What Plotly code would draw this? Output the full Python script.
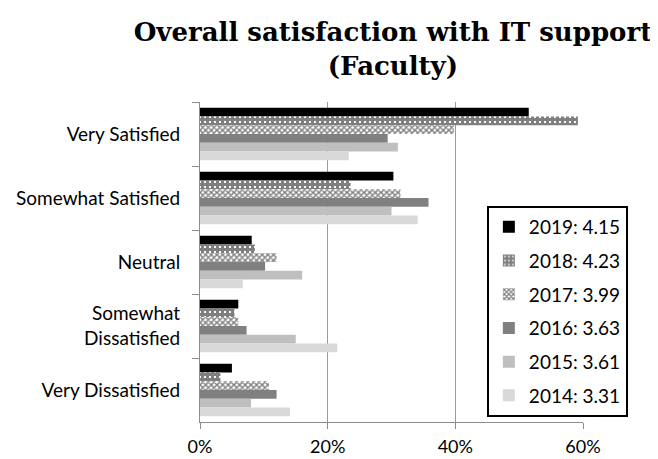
import plotly.graph_objects as go

categories = ["Very Satisfied", "Somewhat Satisfied", "Neutral", "Somewhat<br>Dissatisfied", "Very Dissatisfied"]
series_names = ["2019: 4.15", "2018: 4.23", "2017: 3.99", "2016: 3.63", "2015: 3.61", "2014: 3.31"]
v2019 = [51.5, 30.3, 8.1, 6.0, 5.0]
v2018 = [59.2, 23.6, 8.6, 5.4, 3.2]
v2017 = [39.8, 31.4, 12.0, 6.0, 10.8]
v2016 = [29.4, 35.8, 10.2, 7.3, 12.0]
v2015 = [31.0, 30.0, 16.0, 15.0, 8.0]
v2014 = [23.3, 34.1, 6.7, 21.5, 14.1]
x_ticks = [0, 20, 40, 60]
x_tick_labels = ["0%", "20%", "40%", "60%"]

values = [v2019, v2018, v2017, v2016, v2015, v2014]
styles = [
    dict(color="#000000"),
    dict(color="#ffffff", pattern=dict(shape="+", fgcolor="#000000", bgcolor="#ffffff", size=5, solidity=0.85)),
    dict(color="#ffffff", pattern=dict(shape="x", fgcolor="#000000", bgcolor="#ffffff", size=4, solidity=0.6)),
    dict(color="#808080"),
    dict(color="#bfbfbf"),
    dict(color="#d9d9d9"),
]

fig = go.Figure()
for i, (name, vals, st) in enumerate(zip(series_names, values, styles)):
    fig.add_trace(go.Bar(
        y=categories, x=vals, name=name, orientation="h",
        marker=dict(line=dict(width=0), **st),
        legendgroup=f"g{i}",
    ))

fig.update_layout(
    width=658, height=459,
    barmode="group", bargap=0.18, bargroupgap=0,
    plot_bgcolor="white", paper_bgcolor="white",
    margin=dict(l=192, r=83, t=94, b=45, autoexpand=False),
    font=dict(family="Lato, Open Sans, sans-serif", size=19, color="#000000"),
    title=dict(
        text="<b>Overall satisfaction with IT support<br>(Faculty)</b>",
        font=dict(family="DejaVu Serif", size=26, color="#000000"),
        xref="container", x=0.585, xanchor="center",
        yref="container", y=0.928, yanchor="middle",
    ),
    legend=dict(
        x=0.749, xanchor="left", y=0.675, yanchor="top",
        bgcolor="white", bordercolor="#000000", borderwidth=2,
        font=dict(size=19), tracegroupgap=6,
    ),
)
fig.update_xaxes(
    range=[0, 60], tickvals=x_ticks, ticktext=x_tick_labels,
    showgrid=True, gridcolor="#9a9a9a", gridwidth=1,
    showline=True, linecolor="#8c8c8c", linewidth=1,
    ticks="outside", ticklen=6, tickcolor="#8c8c8c",
    zeroline=False, fixedrange=True, tickfont=dict(size=18),
    ticklabelstandoff=2, automargin=False,
)
fig.update_yaxes(
    autorange="reversed", showgrid=False,
    showline=True, linecolor="#8c8c8c", linewidth=1,
    ticks="outside", tickson="boundaries", ticklen=7, tickcolor="#8c8c8c",
    ticklabelstandoff=15, tickfont=dict(size=19), automargin=False,
)

fig.write_html("out.html")
